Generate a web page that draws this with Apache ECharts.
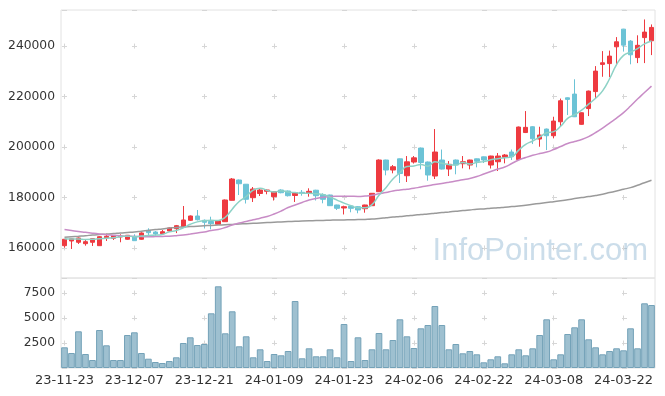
<!DOCTYPE html>
<html><head><meta charset="utf-8">
<script src="https://cdn.jsdelivr.net/npm/echarts@6/dist/echarts.min.js"></script>
<style>html,body{margin:0;padding:0;background:#fff}#c{width:665px;height:396px}</style>
</head><body><div id="c"></div>
<script>
const dates = ['23-11-23','23-11-24','23-11-27','23-11-28','23-11-29','23-11-30','23-12-01','23-12-04','23-12-05','23-12-06',
'23-12-07','23-12-08','23-12-11','23-12-12','23-12-13','23-12-14','23-12-15','23-12-18','23-12-19','23-12-20',
'23-12-21','23-12-22','23-12-26','23-12-27','23-12-28','24-01-02','24-01-03','24-01-04','24-01-05','24-01-08',
'24-01-09','24-01-10','24-01-11','24-01-12','24-01-15','24-01-16','24-01-17','24-01-18','24-01-19','24-01-22',
'24-01-23','24-01-24','24-01-25','24-01-26','24-01-29','24-01-30','24-01-31','24-02-01','24-02-02','24-02-05',
'24-02-06','24-02-07','24-02-08','24-02-13','24-02-14','24-02-15','24-02-16','24-02-19','24-02-20','24-02-21',
'24-02-22','24-02-23','24-02-26','24-02-27','24-02-28','24-02-29','24-03-04','24-03-05','24-03-06','24-03-07',
'24-03-08','24-03-11','24-03-12','24-03-13','24-03-14','24-03-15','24-03-18','24-03-19','24-03-20','24-03-21',
'24-03-22','24-03-25','24-03-26','24-03-27','24-03-28'];

const openP = [160910,162770,162260,161700,162260,160910,164080,163840,164360,163450,
164630,163450,167010,166340,165660,166730,167640,168320,170970,172670,
170970,170490,169390,170410,178890,186930,185260,179920,181580,182450,
180310,182970,182570,180790,182060,181660,182890,181110,180990,177030,
175840,176630,176350,175560,176750,182290,194850,190890,195320,188630,
194060,199600,194060,188510,194850,191280,194850,193380,192870,195320,
196110,192870,194170,195920,198020,195050,205740,208040,203160,207120,
204470,210010,219520,220980,208990,215240,221970,232750,233060,239720,
246720,241970,235440,243360,242090];
const closeP = [163450,163640,163960,162490,163680,164470,164630,164870,164750,165030,
162890,165940,166060,165540,166450,167920,168830,171090,172670,171210,
170180,169620,170810,179010,187320,185460,179290,183360,182970,182970,
182290,181900,180710,181900,181580,182450,180710,179290,176750,175720,
176350,175720,175050,177030,181660,194850,190890,192190,189500,194140,
195720,193860,188910,198020,191280,193150,192870,194170,194850,194370,
194850,196430,196430,196830,196150,207920,207800,203280,204750,204470,
210290,218330,218880,211990,213580,222170,230090,233380,236030,241700,
240380,236550,240310,245540,247400];
const lowP = [160120,159600,161580,160910,160790,160790,162770,163170,162260,163290,
162770,163290,164470,164870,165540,166530,165900,167920,170690,170890,
167720,167410,169230,170300,178810,180990,177620,178220,180590,181270,
178810,181660,180390,178220,180710,180310,178810,177700,176630,175050,
173270,174140,173740,173980,176630,182170,188790,189580,185740,186140,
193460,191170,186650,187320,191090,188510,189190,191560,191170,191960,
193660,191480,190490,193540,194850,194850,205540,201180,200120,198810,
203440,208310,212670,211880,208830,212270,219400,227840,227720,232470,
237820,232780,233260,233260,236430];
const highP = [163560,163760,164160,163170,163840,164670,165660,165030,165420,165150,
165420,166220,167800,166730,167130,168120,169110,176630,172870,175050,
171290,172390,170970,179210,187720,187130,185340,184160,183760,183170,
182570,183250,182770,182060,182970,183640,183050,181660,181110,177150,
176750,176750,176510,177150,181780,195120,194970,192870,195440,196430,
196430,199800,194250,207120,199010,194450,195050,196430,194970,195440,
196230,196550,197620,197220,199010,208110,214250,208230,208040,207320,
212000,219200,219680,226840,213740,222370,232070,238010,238210,243560,
246840,242370,244270,250560,248580];

const volume = [2070,1500,3670,1400,800,3800,2270,800,800,3300,
3570,1500,930,600,500,700,1070,2500,3070,2300,
2400,5470,8170,3470,5670,2170,3170,1070,1870,700,
1400,1270,1700,6700,970,1970,1170,1170,1870,1070,
4400,700,3070,800,1870,3500,1870,2800,4870,3170,
2000,3970,4300,6200,4300,1870,2400,1470,1700,1370,
570,870,1170,470,1370,1870,1270,1970,3300,4870,
870,1370,3400,4070,4870,2870,2070,1370,1700,1970,
1770,3970,1970,6470,6300];

const ma5 = [163700,163600,163600,163400,163440,163650,163850,164030,164480,164750,
164430,164700,164930,165090,165380,166380,166960,167970,169390,170340,
170800,170950,170900,172170,175390,178440,180380,182890,183680,182810,
182180,182700,182170,181950,181680,181710,181470,181190,180160,178980,
177760,176770,175920,175970,177160,180860,183900,187320,189820,192310,
192490,193080,192430,194130,193560,193040,192850,193900,193260,193880,
194220,194930,195390,195780,196140,198750,201030,202400,203980,205640,
206120,208220,211340,212790,214610,216990,219340,222240,227050,232670,
236320,237610,238990,240900,242040];
const ma20 = [167330,166930,166530,166220,165860,165540,165270,165030,164830,164670,
164590,164510,164470,164510,164590,164670,164870,165150,165540,165940,
166340,166930,167330,168120,169110,169900,170490,171170,171800,172470,
173460,174650,176040,177030,178020,179010,179600,180120,180350,180470,
180510,180470,180430,180590,180910,181460,181940,182570,182970,183290,
183640,184160,184630,185110,185540,186020,186530,187050,187520,188310,
189300,190290,191280,192080,193460,194850,195840,196710,197420,198020,
199010,200190,201380,202170,202970,204150,205740,207520,209500,211480,
213660,216230,219000,221580,224150];
const ma60 = [164240,164470,164670,164870,165110,165310,165500,165700,165940,166140,
166340,166650,166970,167290,167560,167880,168160,168320,168470,168630,
168790,168950,169070,169230,169350,169500,169620,169780,169900,170060,
170180,170340,170450,170610,170730,170810,170850,170930,171010,171090,
171130,171210,171250,171330,171440,171680,171960,172240,172470,172750,
172990,173270,173500,173780,174060,174300,174570,174850,175090,175330,
175480,175720,175920,176160,176390,176630,176950,177310,177660,177980,
178340,178690,179130,179560,179960,180350,180790,181300,181940,182570,
183250,183920,184870,185860,186810];

const priceTicks = [160000,180000,200000,220000,240000];
const volTicks = [2500,5000,7500];

const UP = '#ee3a40', DOWN = '#6cc3d6';
const candleData = dates.map((d,i)=>[openP[i], closeP[i], lowP[i], highP[i]]);

const chart = echarts.init(document.getElementById('c'), null, {renderer:'canvas'});
const gridLine = '#e2e2e2', cross = '#d6d6d6';
const labelStyle = {color:'#333', fontSize:12.3, fontFamily:'DejaVu Sans'};
chart.setOption({
  animation:false,
  grid:[
    {left:61, right:10, top:10, height:268, show:true, borderColor:gridLine, borderWidth:1, backgroundColor:'transparent'},
    {left:61, right:10, top:278, height:90, show:true, borderColor:gridLine, borderWidth:1, backgroundColor:'transparent'}
  ],
  xAxis:[
    {type:'category', gridIndex:0, data:dates, boundaryGap:true,
     axisLine:{show:false}, axisTick:{show:false}, axisLabel:{show:false},
     splitLine:{show:true, interval:9, alignWithLabel:true, lineStyle:{color:cross, width:1, type:[5,45.47], dashOffset:16.87}}},
    {type:'category', gridIndex:1, data:dates, boundaryGap:true,
     axisLine:{show:false}, axisTick:{show:false},
     axisLabel:{show:true, interval:9, margin:6, color:'#333', fontSize:13, fontFamily:'DejaVu Sans'},
     splitLine:{show:true, interval:9, alignWithLabel:true, lineStyle:{color:cross, width:1, type:[5,20], dashOffset:12.5}}}
  ],
  yAxis:[
    {type:'value', gridIndex:0, min:148100, max:254300, scale:true,
     axisLine:{show:false}, axisTick:{show:false},
     axisLabel:{margin:6, ...labelStyle, formatter:v=> priceTicks.indexOf(v)>=0 ? String(v) : ''},
     splitLine:{show:true, lineStyle:{color:cross, width:1, type:[5,65], dashOffset:69}}},
    {type:'value', gridIndex:1, min:0, max:9000, interval:2500,
     axisLine:{show:false}, axisTick:{show:false},
     axisLabel:{margin:6, ...labelStyle, formatter:v=> volTicks.indexOf(v)>=0 ? String(v) : ''},
     splitLine:{show:true, lineStyle:{color:cross, width:1, type:[5,65], dashOffset:69}}}
  ],
  series:[
    {type:'candlestick', xAxisIndex:0, yAxisIndex:0, data:candleData, barWidth:5,
     itemStyle:{color:UP, color0:DOWN, borderColor:UP, borderColor0:DOWN, borderWidth:1}},
    {type:'line', xAxisIndex:0, yAxisIndex:0, data:ma60, symbol:'none', smooth:true,
     lineStyle:{color:'#9a9a9a', width:1.5}},
    {type:'line', xAxisIndex:0, yAxisIndex:0, data:ma20, symbol:'none', smooth:true,
     lineStyle:{color:'#c88cc6', width:1.5}},
    {type:'line', xAxisIndex:0, yAxisIndex:0, data:ma5, symbol:'none', smooth:true,
     lineStyle:{color:'#8dd2c6', width:1.5}},
    {type:'bar', xAxisIndex:1, yAxisIndex:1, data:volume, barCategoryGap:'4%',
     itemStyle:{color:'#9ec0d0', borderColor:'#74a2b8', borderWidth:1}}
  ],
  graphic:[
    {type:'text', right:17, top:236, z:100, silent:true,
     style:{text:'InfoPointer.com', fill:'rgba(140,180,208,0.45)', font:'31px "Liberation Sans", Arial, sans-serif'}}
  ]
});
</script></body></html>
